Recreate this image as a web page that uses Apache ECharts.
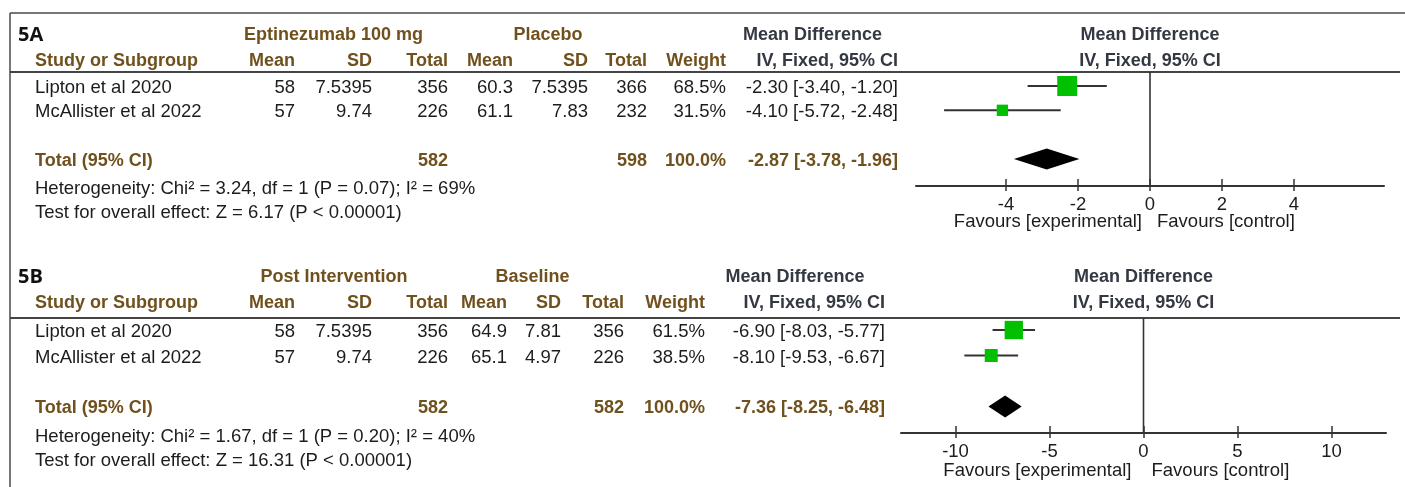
<!DOCTYPE html>
<html>
<head>
<meta charset="utf-8">
<script src="https://cdn.jsdelivr.net/npm/echarts@6/dist/echarts.min.js"></script>
<style>
  html, body { margin: 0; padding: 0; background: #fff; }
  #chart { width: 1405px; height: 487px; }
</style>
</head>
<body>
<div id="chart"></div>
<script>
// ---- 5A: Eptinezumab 100 mg vs placebo ----
const panelLabelA = '5A';
const groupNamesA = ['Eptinezumab 100 mg', 'Placebo'];
const studiesA = ['Lipton et al 2020', 'McAllister et al 2022'];
const expMeanA = [58, 57];
const expSdA = [7.5395, 9.74];
const expTotalA = [356, 226];
const ctlMeanA = [60.3, 61.1];
const ctlSdA = [7.5395, 7.83];
const ctlTotalA = [366, 232];
const weightA = [68.5, 31.5];
const mdA = [-2.30, -4.10];
const lowerA = [-3.40, -5.72];
const upperA = [-1.20, -2.48];
const pooledA = [-2.87, -3.78, -1.96];   // estimate, lower, upper
const sumTotalsA = [582, 598];
const statsA = [
  'Heterogeneity: Chi\u00b2 = 3.24, df = 1 (P = 0.07); I\u00b2 = 69%',
  'Test for overall effect: Z = 6.17 (P < 0.00001)'
];
const ticksA = [-4, -2, 0, 2, 4];

// ---- 5B: post intervention vs baseline ----
const panelLabelB = '5B';
const groupNamesB = ['Post Intervention', 'Baseline'];
const studiesB = ['Lipton et al 2020', 'McAllister et al 2022'];
const expMeanB = [58, 57];
const expSdB = [7.5395, 9.74];
const expTotalB = [356, 226];
const ctlMeanB = [64.9, 65.1];
const ctlSdB = [7.81, 4.97];
const ctlTotalB = [356, 226];
const weightB = [61.5, 38.5];
const mdB = [-6.90, -8.10];
const lowerB = [-8.03, -9.53];
const upperB = [-5.77, -6.67];
const pooledB = [-7.36, -8.25, -6.48];
const sumTotalsB = [582, 582];
const statsB = [
  'Heterogeneity: Chi\u00b2 = 1.67, df = 1 (P = 0.20); I\u00b2 = 40%',
  'Test for overall effect: Z = 16.31 (P < 0.00001)'
];
const ticksB = [-10, -5, 0, 5, 10];

// Shared text
const columnHeads = ['Mean', 'SD', 'Total', 'Mean', 'SD', 'Total', 'Weight', 'IV, Fixed, 95% CI'];
const effectTitle = 'Mean Difference';
const effectSub = 'IV, Fixed, 95% CI';
const studyHead = 'Study or Subgroup';
const totalLabel = 'Total (95% CI)';
const favours = ['Favours [experimental]', 'Favours [control]'];

// ---- styling ----
const FONT = '"Liberation Sans", Arial, sans-serif';
const BROWN = '#70511d';
const SLATE = '#343843';
const INK = '#1c1c1c';
const GREEN = '#00c000';
const LINE = '#333333';

const panels = [
  {
    label: panelLabelA, groups: groupNamesA, studies: studiesA,
    cols: [expMeanA, expSdA, expTotalA, ctlMeanA, ctlSdA, ctlTotalA],
    weight: weightA, md: mdA, lo: lowerA, hi: upperA, pooled: pooledA,
    sums: sumTotalsA, stats: statsA, ticks: ticksA,
    lay: {
      labelY: 35, headY: 61, lineY: 72, row0: 86, rowStep: 24.3, axisY: 186,
      statY: [189, 213], colX: [295, 372, 448, 513, 588, 647, 726, 898],
      groupCx: [333.5, 548, 812.5], plotLeft: 916, plotWidth: 468, xMax: 6.5,
      favY: 222, favGap: [8, 7], diamondH: 10.5
    }
  },
  {
    label: panelLabelB, groups: groupNamesB, studies: studiesB,
    cols: [expMeanB, expSdB, expTotalB, ctlMeanB, ctlSdB, ctlTotalB],
    weight: weightB, md: mdB, lo: lowerB, hi: upperB, pooled: pooledB,
    sums: sumTotalsB, stats: statsB, ticks: ticksB,
    lay: {
      labelY: 277, headY: 303, lineY: 318, row0: 330, rowStep: 25.5, axisY: 433,
      statY: [437, 461], colX: [295, 372, 448, 507, 561, 624, 705, 885],
      groupCx: [334, 532.5, 795], plotLeft: 901, plotWidth: 485, xMax: 12.9,
      favY: 471, favGap: [12, 8], diamondH: 11
    }
  }
];

const TOTAL_ROW = 3; // a blank row separates the studies from the pooled total

function fmtCI(m, l, h) {
  return m.toFixed(2) + ' [' + l.toFixed(2) + ', ' + h.toFixed(2) + ']';
}

function txt(text, x, y, opt) {
  opt = opt || {};
  return {
    type: 'text', silent: true,
    style: {
      text: text, x: x, y: y,
      font: (opt.bold ? 'bold ' : '') + (opt.size || 18.5) + 'px ' + (opt.family || FONT),
      fill: opt.color || INK,
      align: opt.align || 'left',
      verticalAlign: 'middle'
    }
  };
}

function hline(x1, x2, y, w, color) {
  return { type: 'line', silent: true, shape: { x1: x1, y1: y, x2: x2, y2: y },
           style: { stroke: color || LINE, lineWidth: w || 1.5 } };
}

const graphics = [];
const grids = [], xAxes = [], yAxes = [], series = [];

// outer frame (top and left edges)
graphics.push(hline(10, 1405, 13, 1.5, '#4a4a4a'));
graphics.push({ type: 'line', silent: true, shape: { x1: 10, y1: 13, x2: 10, y2: 487 },
                style: { stroke: '#4a4a4a', lineWidth: 1.5 } });

panels.forEach(function (p, k) {
  const L = p.lay;
  const x0 = L.plotLeft + L.plotWidth * (0 + L.xMax) / (2 * L.xMax);
  const rowY = function (i) { return L.row0 + i * L.rowStep + 2; };

  // header block
  graphics.push(txt(p.label, 18, L.labelY, { bold: true, size: 20, family: '"Open Sans", sans-serif', color: '#111' }));
  graphics.push(txt(p.groups[0], L.groupCx[0], L.labelY, { bold: true, size: 18, color: BROWN, align: 'center' }));
  graphics.push(txt(p.groups[1], L.groupCx[1], L.labelY, { bold: true, size: 18, color: BROWN, align: 'center' }));
  graphics.push(txt(effectTitle, L.groupCx[2], L.labelY, { bold: true, size: 18, color: SLATE, align: 'center' }));
  graphics.push(txt(effectTitle, x0, L.labelY, { bold: true, size: 18, color: SLATE, align: 'center' }));
  graphics.push(txt(studyHead, 35, L.headY, { bold: true, size: 18, color: BROWN }));
  columnHeads.forEach(function (h, c) {
    graphics.push(txt(h, L.colX[c], L.headY, { bold: true, size: 18, color: c === 7 ? SLATE : BROWN, align: 'right' }));
  });
  graphics.push(txt(effectSub, x0, L.headY, { bold: true, size: 18, color: SLATE, align: 'center' }));
  graphics.push(hline(10, 1400, L.lineY, 2, '#444'));

  // study rows
  p.studies.forEach(function (s, i) {
    const y = rowY(i);
    graphics.push(txt(s, 35, y));
    p.cols.forEach(function (col, c) {
      graphics.push(txt(String(col[i]), L.colX[c], y, { align: 'right' }));
    });
    graphics.push(txt(p.weight[i].toFixed(1) + '%', L.colX[6], y, { align: 'right' }));
    graphics.push(txt(fmtCI(p.md[i], p.lo[i], p.hi[i]), L.colX[7], y, { align: 'right' }));
  });

  // pooled row
  const ty = rowY(TOTAL_ROW);
  const wSum = p.weight.reduce(function (a, b) { return a + b; }, 0);
  graphics.push(txt(totalLabel, 35, ty, { bold: true, size: 18, color: BROWN }));
  graphics.push(txt(String(p.sums[0]), L.colX[2], ty, { bold: true, size: 18, color: BROWN, align: 'right' }));
  graphics.push(txt(String(p.sums[1]), L.colX[5], ty, { bold: true, size: 18, color: BROWN, align: 'right' }));
  graphics.push(txt(wSum.toFixed(1) + '%', L.colX[6], ty, { bold: true, size: 18, color: BROWN, align: 'right' }));
  graphics.push(txt(fmtCI(p.pooled[0], p.pooled[1], p.pooled[2]), L.colX[7], ty, { bold: true, size: 18, color: BROWN, align: 'right' }));

  // statistics footnotes
  graphics.push(txt(p.stats[0], 35, L.statY[0]));
  graphics.push(txt(p.stats[1], 35, L.statY[1]));

  // favours captions either side of the null line
  graphics.push(txt(favours[0], x0 - L.favGap[0], L.favY, { align: 'right' }));
  graphics.push(txt(favours[1], x0 + L.favGap[1], L.favY));

  // forest plot grid
  const gridH = L.axisY - L.lineY;
  const yMin = -(L.row0 - L.lineY) / L.rowStep;
  const yMax = yMin + gridH / L.rowStep;
  grids.push({ left: L.plotLeft, width: L.plotWidth, top: L.lineY, height: gridH, containLabel: false });

  const xa = {
    type: 'value', gridIndex: k, min: -L.xMax, max: L.xMax, position: 'bottom',
    splitLine: { show: false },
    axisLine: { show: true, onZero: false, lineStyle: { color: '#333', width: 2 } },
    axisTick: { show: true, inside: true, length: 7, customValues: p.ticks, lineStyle: { color: '#333', width: 1.5 } },
    axisLabel: { show: true, customValues: p.ticks, margin: 9, fontSize: 18.5, fontFamily: FONT, color: INK }
  };
  const xb = {
    type: 'value', gridIndex: k, min: -L.xMax, max: L.xMax, position: 'bottom',
    splitLine: { show: false },
    axisLine: { show: false, onZero: false },
    axisTick: { show: true, inside: false, length: 5, customValues: p.ticks, lineStyle: { color: '#333', width: 1.5 } },
    axisLabel: { show: false }
  };
  xAxes.push(xa, xb);
  yAxes.push({ type: 'value', gridIndex: k, min: yMin, max: yMax, inverse: true, show: false });

  const xi = k * 2, yi = k;

  // line of no effect
  series.push({
    type: 'line', xAxisIndex: xi, yAxisIndex: yi, silent: true, symbol: 'none',
    data: [[0, yMin], [0, yMax]],
    lineStyle: { color: '#333', width: 1.6 }, z: 1
  });

  // study estimates: CI whisker plus weight-scaled square
  series.push({
    type: 'custom', xAxisIndex: xi, yAxisIndex: yi, silent: true, z: 3,
    data: p.md.map(function (m, i) { return [m, i, p.lo[i], p.hi[i], p.weight[i]]; }),
    renderItem: function (params, api) {
      const row = api.value(1);
      const c = api.coord([api.value(0), row]);
      const a = api.coord([api.value(2), row]);
      const b = api.coord([api.value(3), row]);
      const s = 4 + api.value(4) * 0.233;
      return {
        type: 'group',
        children: [
          { type: 'line', shape: { x1: a[0], y1: a[1], x2: b[0], y2: b[1] },
            style: { stroke: LINE, lineWidth: 1.9 } },
          { type: 'rect', shape: { x: c[0] - s / 2, y: c[1] - s / 2, width: s, height: s },
            style: { fill: GREEN } }
        ]
      };
    }
  });

  // pooled estimate diamond
  const dh = L.diamondH;
  series.push({
    type: 'custom', xAxisIndex: xi, yAxisIndex: yi, silent: true, z: 3,
    data: [[p.pooled[0], TOTAL_ROW, p.pooled[1], p.pooled[2]]],
    renderItem: function (params, api) {
      const row = api.value(1);
      const c = api.coord([api.value(0), row]);
      const a = api.coord([api.value(2), row]);
      const b = api.coord([api.value(3), row]);
      return {
        type: 'polygon',
        shape: { points: [[a[0], a[1]], [c[0], c[1] - dh], [b[0], b[1]], [c[0], c[1] + dh]] },
        style: { fill: '#000' }
      };
    }
  });
});

const chart = echarts.init(document.getElementById('chart'), null, { renderer: 'canvas' });
chart.setOption({
  backgroundColor: '#fff',
  animation: false,
  grid: grids,
  xAxis: xAxes,
  yAxis: yAxes,
  series: series,
  graphic: { elements: graphics }
});
</script>
</body>
</html>
